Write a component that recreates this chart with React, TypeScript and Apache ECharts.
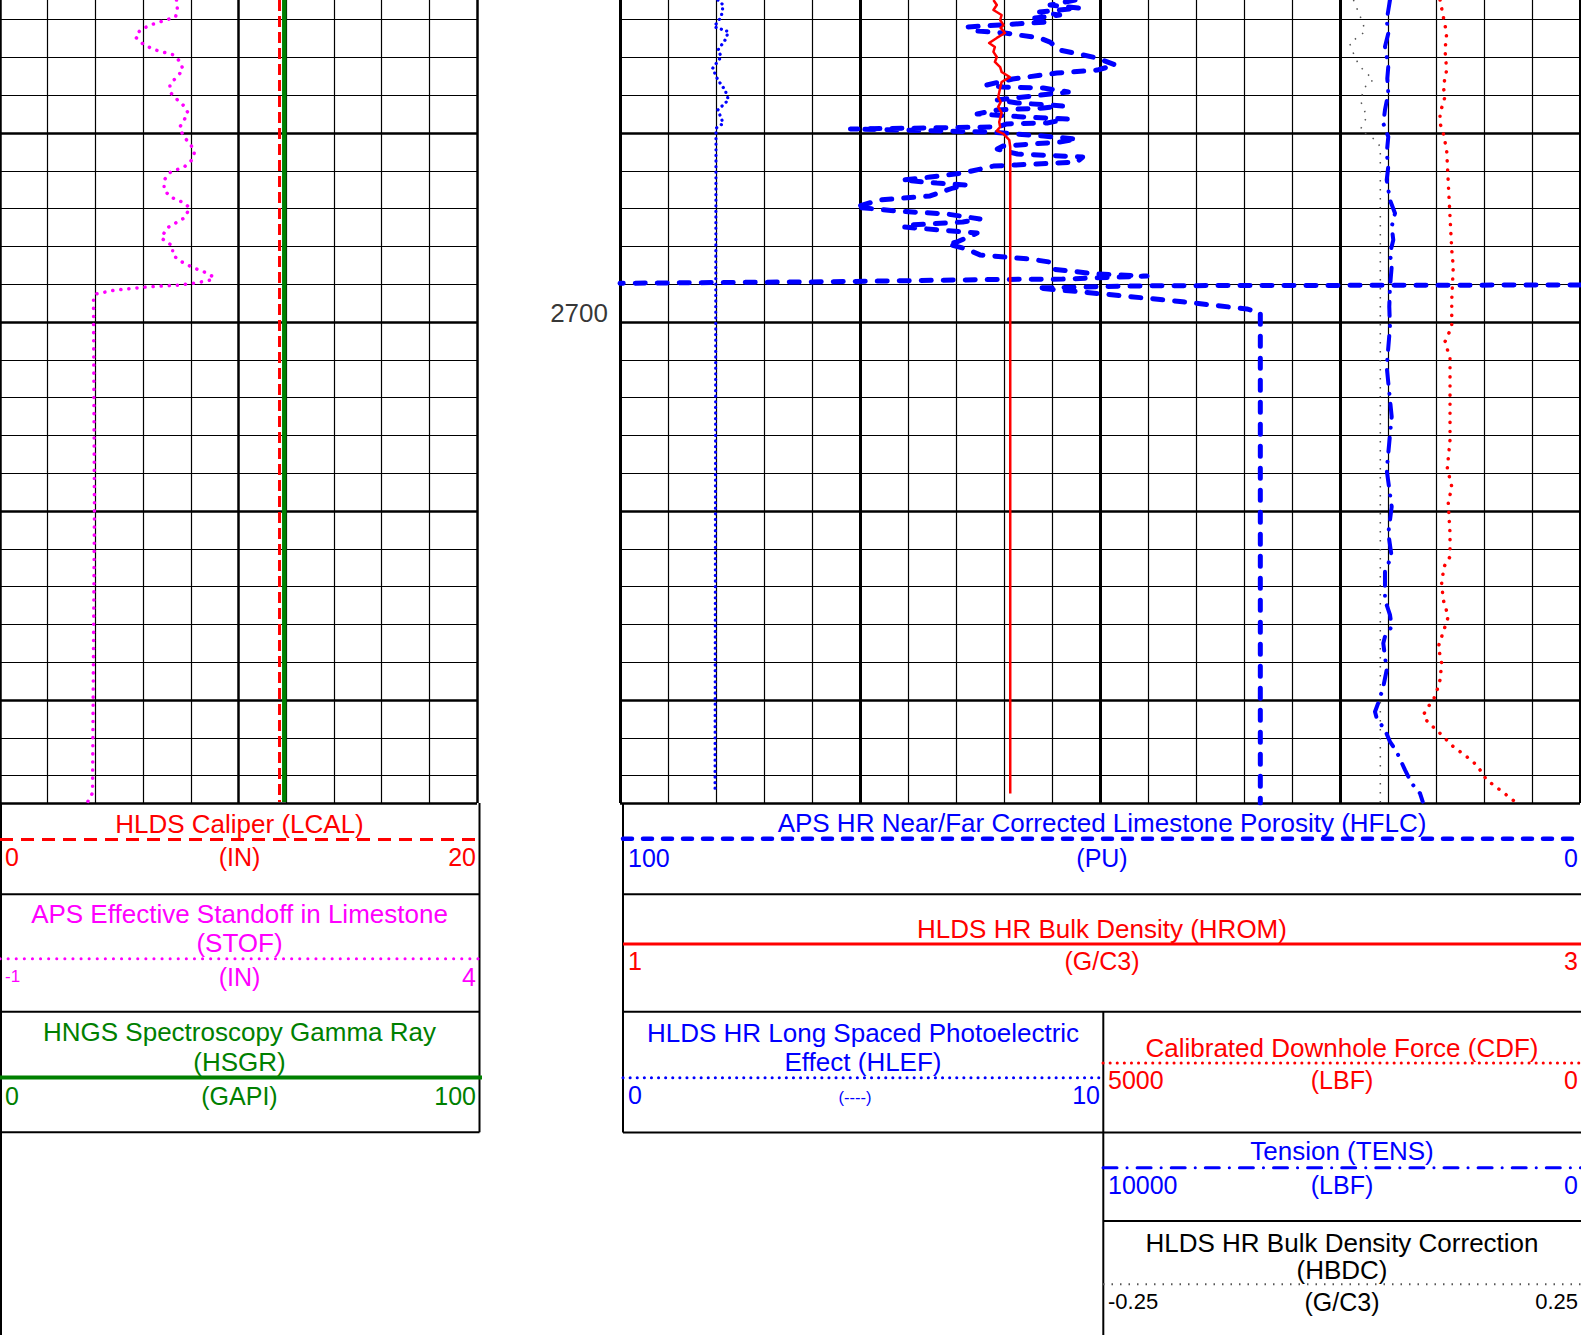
import { useEffect, useRef } from 'react';
import * as echarts from 'echarts';

const FONT = '"Liberation Sans", Arial, Helvetica, sans-serif';

// ---- depth window of the log plot ----
const DEPTH_MIN = 2680;
const DEPTH_MAX = 2725.45;
const depthLabels = [2700];

// ---- curve samples (depth, value) ----
const lcalDepth = [2682.96, 2725.4];
const lcalValue = [11.72, 11.72];

const hsgrDepth = [2682.96, 2725.4];
const hsgrValue = [59.6, 59.6];

const stofDepth = [
  2682.96, 2683.49, 2683.86, 2684.02, 2684.28, 2684.55, 2684.92, 2685.34, 2685.61, 2685.87,
  2686.24, 2686.67, 2687.03, 2687.46, 2687.88, 2688.25, 2688.62, 2688.94, 2689.31, 2689.73,
  2690.21, 2690.63, 2691.0, 2691.43, 2691.8, 2692.06, 2692.49, 2693.02, 2693.39, 2693.7,
  2693.97, 2694.5, 2695.03, 2695.56, 2695.98, 2696.46, 2696.83, 2697.14, 2697.35, 2697.62,
  2697.78, 2697.94, 2698.04, 2698.15, 2698.31, 2698.52, 2698.84, 2710.0, 2724.92, 2725.38,
];
const stofValue = [
  0.85, 0.86, 0.84, 0.74, 0.58, 0.47, 0.42, 0.51, 0.63, 0.82,
  0.89, 0.92, 0.85, 0.78, 0.79, 0.86, 0.94, 0.97, 0.93, 0.88,
  0.93, 1.0, 1.04, 1.01, 0.93, 0.79, 0.72, 0.72, 0.79, 0.93,
  0.99, 0.93, 0.75, 0.69, 0.81, 0.81, 0.91, 1.03, 1.14, 1.24,
  1.21, 1.05, 0.89, 0.53, 0.21, 0.0, -0.02, -0.01, -0.03, -0.08,
];

const hflcDepth = [
  2682.96, 2683.23, 2683.39, 2683.6, 2683.76, 2683.92, 2684.13, 2684.39, 2684.6, 2684.71,
  2684.97, 2685.19, 2685.61, 2686.03, 2686.4, 2686.67, 2686.83, 2687.14, 2687.46, 2687.57,
  2687.62, 2687.83, 2687.94, 2688.25, 2688.41, 2688.57, 2688.68, 2688.78, 2688.99, 2689.15,
  2689.26, 2689.47, 2689.52, 2689.68, 2689.79, 2689.95, 2690.16, 2690.32, 2690.48, 2690.69,
  2690.85, 2691.11, 2691.27, 2691.53, 2691.64, 2691.75, 2692.12, 2692.33, 2692.49, 2692.65,
  2692.75, 2692.91, 2693.33, 2693.54, 2693.92, 2694.13, 2694.29, 2694.55, 2694.71, 2694.87,
  2694.97, 2695.13, 2695.29, 2695.77, 2695.87, 2696.14, 2696.45, 2696.67, 2696.83, 2697.2,
  2697.46, 2697.57, 2697.73, 2697.75, 2697.87, 2697.95, null, 2698.04, 2698.08, 2698.13,
  2698.2, 2698.4, 2698.71, 2698.93, 2699.31, 2699.52, 2725.45,
];
const hflcValue = [
  52.6, 55.2, 52.1, 56.3, 54.2, 56.8, 55.7, 63.8, 63.0, 59.9,
  56.3, 55.2, 54.2, 50.3, 48.4, 50.3, 54.5, 59.1, 61.8, 60.1,
  55.9, 53.3, 55.2, 60.7, 58.6, 53.9, 55.9, 60.7, 62.8, 58.0,
  53.4, 55.5, 59.7, 60.7, 76.0, 61.5, 55.9, 52.4, 54.2, 60.1,
  60.7, 58.6, 51.8, 52.4, 56.6, 61.1, 64.3, 67.7, 70.6, 67.0,
  63.9, 65.3, 67.7, 72.9, 75.5, 71.1, 65.9, 62.5, 64.3, 69.8,
  70.5, 66.7, 62.8, 64.9, 65.9, 63.9, 62.5, 57.3, 55.2, 55.0,
  50.3, 45.1, 53.9, 60.7, 78.1, 100, null, 0, 44.8, 50.0,
  56.6, 52.1, 45.8, 41.4, 34.7, 33.3, 33.3,
];

const hromDepth = [
  2682.96, 2683.23, 2683.49, 2683.76, 2684.02, 2684.29, 2684.44, 2684.71, 2684.97, 2685.24,
  2685.45, 2685.71, 2685.98, 2686.24, 2686.51, 2686.77, 2687.04, 2687.3, 2687.62, 2688.1,
  2688.36, 2688.62, 2688.94, 2689.42, 2689.68, 2689.89, 2690.05, 2690.37, 2690.74, 2724.95,
];
const hromValue = [
  1.778, 1.785, 1.778, 1.795, 1.792, 1.799, 1.793, 1.802, 1.785, 1.769,
  1.781, 1.778, 1.785, 1.781, 1.792, 1.795, 1.812, 1.795, 1.792, 1.788,
  1.793, 1.788, 1.795, 1.79, 1.792, 1.785, 1.799, 1.811, 1.813, 1.813,
];

const hlefDepth = [
  2682.96, 2683.23, 2683.85, 2684.38, 2684.64, 2685.08, 2685.61, 2685.96, 2686.58, 2687.2,
  2687.73, 2688.25, 2688.78, 2689.49, 2689.75, 2724.95,
];
const hlefValue = [
  2.04, 2.15, 2.11, 1.96, 2.26, 2.19, 2.04, 2.11, 1.93, 2.04,
  2.19, 2.26, 2.04, 2.15, 2.0, 1.98,
];

const cdfDepth = [
  2682.96, 2683.85, 2684.73, 2685.61, 2686.67, 2687.55, 2688.08, 2688.96, 2689.49, 2690.02,
  2690.9, 2692.66, 2694.43, 2696.19, 2697.07, 2698.84, 2700.25, 2701.04, 2701.92, 2704.13,
  2706.24, 2707.74, 2708.71, 2709.59, 2711.18, 2712.42, 2712.95, 2713.83, 2714.71, 2715.59,
  2716.12, 2717.18, 2718.06, 2718.94, 2719.56, 2720.0, 2720.35, 2720.79, 2721.23, 2721.5,
  2721.94, 2722.47, 2723.0, 2723.44, 2724.23, 2724.76, 2725.38,
];
const cdfValue = [
  1458, 1424, 1389, 1406, 1389, 1424, 1406, 1458, 1458, 1424,
  1389, 1372, 1354, 1336, 1320, 1336, 1336, 1406, 1354, 1354,
  1354, 1382, 1336, 1372, 1354, 1354, 1417, 1441, 1424, 1372,
  1406, 1476, 1441, 1458, 1493, 1528, 1580, 1632, 1580, 1510,
  1424, 1320, 1180, 1076, 972, 833, 677,
];

const tensDepth = [
  2682.96, 2684.02, 2684.73, 2685.43, 2686.49, 2687.11, 2687.9, 2688.78, 2689.49, 2690.2,
  2691.07, 2691.78, 2692.49, 2693.55, 2694.25, 2694.96, 2695.66, 2696.37, 2697.07, 2698.13,
  2699.19, 2700.25, 2702.37, 2705.01, 2707.83, 2709.77, 2711.18, 2712.42, 2713.12, 2714.71,
  2715.5, 2716.12, 2716.65, 2717.0, 2717.71, 2718.41, 2719.3, 2720.0, 2720.62, 2720.97,
  2721.59, 2722.21, 2722.74, 2723.7, 2724.41, 2724.94, 2725.38,
];
const tensValue = [
  3958, 4027, 3994, 4063, 3994, 4015, 3994, 4063, 4098, 3994,
  4027, 3994, 4027, 3958, 3854, 3923, 3890, 3958, 3923, 3958,
  3973, 3958, 4027, 3923, 4027, 3923, 3994, 3923, 4063, 4063,
  3958, 3923, 4063, 4098, 4063, 4027, 4098, 4181, 4271, 4235,
  4063, 3958, 3819, 3646, 3506, 3333, 3277,
];

const hbdcDepth = [
  2682.96, 2684.2, 2684.64, 2685.25, 2686.05, 2686.49, 2687.2, 2687.37, 2688.25, 2689.14,
  2689.84, 2690.37, 2690.73, 2725.4,
];
const hbdcValue = [
  0.014, 0.024, 0.026, 0.01, 0.016, 0.021, 0.035, 0.028, 0.021, 0.028,
  0.021, 0.037, 0.042, 0.042,
];

// ---- curve header texts and scales (order: LCAL, STOF, HSGR, HFLC, HROM, HLEF, CDF, TENS, HBDC) ----
const curveTitles = [
  ['HLDS Caliper (LCAL)'],
  ['APS Effective Standoff in Limestone', '(STOF)'],
  ['HNGS Spectroscopy Gamma Ray', '(HSGR)'],
  ['APS HR Near/Far Corrected Limestone Porosity (HFLC)'],
  ['HLDS HR Bulk Density (HROM)'],
  ['HLDS HR Long Spaced Photoelectric', 'Effect (HLEF)'],
  ['Calibrated Downhole Force (CDF)'],
  ['Tension (TENS)'],
  ['HLDS HR Bulk Density Correction', '(HBDC)'],
];
const curveUnits = ['(IN)', '(IN)', '(GAPI)', '(PU)', '(G/C3)', '(----)', '(LBF)', '(LBF)', '(G/C3)'];
const scaleLeft = [0, -1, 0, 100, 1, 0, 5000, 10000, -0.25];
const scaleRight = [20, 4, 100, 0, 3, 10, 0, 0, 0.25];

const curveDepths = [lcalDepth, stofDepth, hsgrDepth, hflcDepth, hromDepth, hlefDepth, cdfDepth, tensDepth, hbdcDepth];
const curveValues = [lcalValue, stofValue, hsgrValue, hflcValue, hromValue, hlefValue, cdfValue, tensValue, hbdcValue];

// ---- styling ----
const RED = '#ff0000';
const MAGENTA = '#ff00ff';
const GREEN = '#008000';
const BLUE = '#0000ff';
const GRAY = '#555555';

type LineLook = { color: string; width: number; dash: any; cap: string; headWidth: number; headDash?: any };
const curveLooks: LineLook[] = [
  { color: RED, width: 3, dash: [11, 5], cap: 'butt', headWidth: 3, headDash: [13, 8] },
  { color: MAGENTA, width: 3.5, dash: [0.1, 8], cap: 'round', headWidth: 3, headDash: [0.1, 8] },
  { color: GREEN, width: 4.5, dash: 'solid', cap: 'butt', headWidth: 4 },
  { color: BLUE, width: 5, dash: [10, 12], cap: 'round', headWidth: 4.5, headDash: [9, 11] },
  { color: RED, width: 2.5, dash: 'solid', cap: 'butt', headWidth: 3 },
  { color: BLUE, width: 3.2, dash: [0.1, 5.5], cap: 'round', headWidth: 3, headDash: [0.1, 7] },
  { color: RED, width: 3.5, dash: [0.1, 9], cap: 'round', headWidth: 3, headDash: [0.1, 7] },
  { color: BLUE, width: 4, dash: [14, 10, 0.1, 10], cap: 'round', headWidth: 3, headDash: [14, 10, 0.1, 10] },
  { color: GRAY, width: 1.5, dash: [1.5, 7.5], cap: 'butt', headWidth: 2, headDash: [1.5, 7] },
];

// track layout (pixels)
const PLOT_TOP = -56;
const PLOT_HEIGHT = 859;
const gridRects = [
  { left: 0, width: 477 }, // caliper / gamma track
  { left: 478, width: 142 }, // depth track
  { left: 620, width: 960 }, // porosity / density track
  { left: 620, width: 480 }, // left half of that track
  { left: 1100, width: 480 }, // right half of that track
];
const curveGrid = [0, 0, 0, 2, 2, 3, 4, 4, 4];
const gridYAxis = [0, 2, 3, 5, 6];
// xAxis order: HSGR, LCAL, STOF, depth, HFLC, HROM, HLEF, CDF, TENS, HBDC
const curveXAxis = [1, 2, 0, 4, 5, 6, 7, 8, 9];

// header box layout
const headerBoxes = [
  { curve: 0, x0: 0, x1: 479, titleY: [824], lineY: 839.5, scaleY: 857, sizes: [25, 25, 25] },
  { curve: 1, x0: 0, x1: 479, titleY: [914, 943.3], lineY: 958.7, scaleY: 976.5, sizes: [17, 25, 25] },
  { curve: 2, x0: 0, x1: 479, lineX1: 482, titleY: [1032, 1062], lineY: 1077.5, scaleY: 1095.5, sizes: [25, 25, 25] },
  { curve: 3, x0: 623, x1: 1581, titleY: [823.3], lineY: 838.8, scaleY: 858, sizes: [25, 25, 25] },
  { curve: 4, x0: 623, x1: 1581, titleY: [929], lineY: 944, scaleY: 960.5, sizes: [25, 25, 25] },
  { curve: 5, x0: 623, x1: 1103, titleY: [1032.5, 1061.7], lineY: 1077.8, scaleY: 1095, sizes: [25, 16.5, 25], unitDx: -8 },
  { curve: 6, x0: 1103, x1: 1581, titleY: [1047.5], lineY: 1063, scaleY: 1080, sizes: [25, 25, 25] },
  { curve: 7, x0: 1103, x1: 1581, titleY: [1151.3], lineY: 1167.7, scaleY: 1185, sizes: [25, 25, 25] },
  { curve: 8, x0: 1103, x1: 1581, titleY: [1242.5, 1270], lineY: 1284.3, scaleY: 1301.5, sizes: [22, 25, 22] },
];
// box rules: [x1, y1, x2, y2]
const boxRules = [
  [0, 894.3, 479.5, 894.3],
  [0, 1011.7, 479.5, 1011.7],
  [0, 1132.3, 479.5, 1132.3],
  [479.5, 803, 479.5, 1132.3],
  [1, 803, 1, 1335],
  [623, 894.3, 1581, 894.3],
  [623, 1011.7, 1581, 1011.7],
  [623, 1132.6, 1581, 1132.6],
  [1103.3, 1221, 1581, 1221],
  [623, 803, 623, 1132.6],
  [1103.3, 1011.7, 1103.3, 1335],
];

function buildOption() {
  const hidden = { axisLine: { show: false }, axisTick: { show: false }, axisLabel: { show: false } };

  const grid = gridRects.map((r) => ({
    left: r.left,
    width: r.width,
    top: PLOT_TOP,
    height: PLOT_HEIGHT,
    containLabel: false,
    outerBoundsMode: 'none',
  }));

  const curveAxis = (c: number, extra: any = {}) => ({
    type: 'value',
    gridIndex: curveGrid[c],
    min: Math.min(scaleLeft[c], scaleRight[c]),
    max: Math.max(scaleLeft[c], scaleRight[c]),
    inverse: scaleLeft[c] > scaleRight[c],
    position: 'bottom',
    ...hidden,
    splitLine: { show: false },
    ...extra,
  });

  const frame = (interval: number, major: number) => ({
    interval,
    splitLine: { show: true, lineStyle: { color: '#000', width: major } },
    minorTick: { show: false, splitNumber: 5 },
    minorSplitLine: { show: true, lineStyle: { color: '#000', width: 1.2 } },
  });

  const xAxis = [
    curveAxis(2, frame(50, 2.5)),
    curveAxis(0),
    curveAxis(1),
    { type: 'value', gridIndex: 1, min: 0, max: 1, ...hidden, splitLine: { show: false } },
    curveAxis(3, frame(25, 3)),
    curveAxis(4),
    curveAxis(5),
    curveAxis(6),
    curveAxis(7),
    curveAxis(8),
  ];

  const depthAxis = (gridIndex: number, interval: number | null, width: number) => ({
    type: 'value',
    gridIndex,
    min: DEPTH_MIN,
    max: DEPTH_MAX,
    inverse: true,
    ...(interval ? { interval } : {}),
    ...hidden,
    splitLine: { show: interval != null, lineStyle: { color: '#000', width } },
  });

  const yAxis = [
    depthAxis(0, 10, 2.5),
    depthAxis(0, 2, 1.2),
    depthAxis(1, null, 0),
    depthAxis(2, 10, 2.5),
    depthAxis(2, 2, 1.2),
    depthAxis(3, null, 0),
    depthAxis(4, null, 0),
  ];

  const drawOrder = [0, 2, 1, 3, 5, 8, 7, 6, 4];
  const series: any[] = drawOrder.map((c) => {
    const look = curveLooks[c];
    const depths = curveDepths[c];
    const data = curveValues[c].map((v, i) =>
      v == null || depths[i] == null ? ['-', '-'] : [v, depths[i]]
    );
    return {
      type: 'line',
      name: curveTitles[c].join(' '),
      xAxisIndex: curveXAxis[c],
      yAxisIndex: gridYAxis[curveGrid[c]],
      data,
      symbol: 'none',
      showSymbol: false,
      connectNulls: false,
      silent: true,
      lineStyle: { color: look.color, width: look.width, type: look.dash, cap: look.cap, join: 'round' },
    };
  });

  // depth annotation in the depth track, placed just above its depth line
  series.push({
    type: 'scatter',
    xAxisIndex: 3,
    yAxisIndex: 2,
    data: depthLabels.map((d) => [1, d]),
    symbol: 'circle',
    symbolSize: 1,
    clip: false,
    silent: true,
    itemStyle: { color: 'rgba(255,255,255,0)' },
    label: {
      show: true,
      position: [-11.5, -8.5],
      align: 'right',
      verticalAlign: 'middle',
      formatter: (p: any) => String(p.value[1]),
      color: '#000',
      fontSize: 26,
      fontFamily: FONT,
    },
  });

  const graphic: any[] = [];
  boxRules.forEach(([x1, y1, x2, y2]) => {
    graphic.push({
      type: 'line',
      silent: true,
      z: 50,
      shape: { x1, y1, x2, y2 },
      style: { stroke: '#000', lineWidth: 2 },
    });
  });

  const text = (x: number, y: number, t: string, color: string, size: number, align: string) => ({
    type: 'text',
    silent: true,
    z: 60,
    x,
    y,
    style: {
      text: t,
      fill: color,
      fontSize: size,
      fontFamily: FONT,
      align,
      textAlign: align,
      verticalAlign: 'middle',
      textVerticalAlign: 'middle',
    },
  });

  headerBoxes.forEach((b: any) => {
    const c = b.curve;
    const look = curveLooks[c];
    const cx = (b.x0 + b.x1) / 2;
    graphic.push({
      type: 'line',
      silent: true,
      z: 55,
      shape: { x1: b.x0, y1: b.lineY, x2: b.lineX1 || b.x1, y2: b.lineY },
      style: {
        stroke: look.color,
        lineWidth: look.headWidth,
        lineDash: look.headDash || null,
        lineCap: look.cap,
      },
    });
    const textColor = c === 8 ? '#000' : look.color;
    curveTitles[c].forEach((line, i) => {
      graphic.push(text(cx, b.titleY[i], line, textColor, 26, 'center'));
    });
    graphic.push(text(b.x0 + 5, b.scaleY, String(scaleLeft[c]), textColor, b.sizes[0], 'left'));
    graphic.push(text(cx + (b.unitDx || 0), b.scaleY + (b.sizes[1] < 20 ? 2 : 0), curveUnits[c], textColor, b.sizes[1], 'center'));
    graphic.push(text(b.x1 - 3, b.scaleY, String(scaleRight[c]), textColor, b.sizes[2], 'right'));
  });

  return {
    animation: false,
    backgroundColor: '#ffffff',
    textStyle: { fontFamily: FONT },
    tooltip: { show: false },
    grid,
    xAxis,
    yAxis,
    series,
    graphic: { elements: graphic },
  };
}

export default function App() {
  const ref = useRef<HTMLDivElement>(null);
  useEffect(() => {
    if (!ref.current) return;
    const chart = echarts.init(ref.current, null, { renderer: 'svg' });
    chart.setOption(buildOption() as any);
    return () => chart.dispose();
  }, []);
  return (
    <div
      ref={ref}
      style={{ position: 'absolute', left: 0, top: 0, width: 1581, height: 1335, background: '#fff' }}
    />
  );
}
